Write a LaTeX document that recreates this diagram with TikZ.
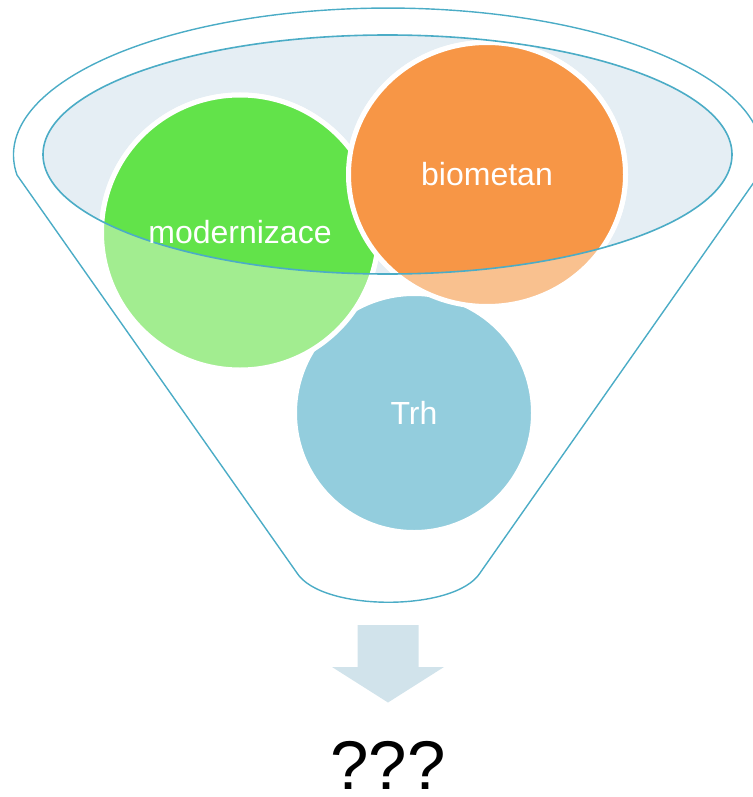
\documentclass[tikz,border=0pt]{standalone}
\usepackage{fontspec}
\setmainfont{Liberation Sans}
\usetikzlibrary{shapes.geometric}
\definecolor{rimblue}{HTML}{4BACC6}
\definecolor{mouthfill}{HTML}{E5EEF4}
\definecolor{greenfull}{HTML}{62E34A}
\definecolor{greenpale}{HTML}{A2ED90}
\definecolor{orangefull}{HTML}{F79646}
\definecolor{orangepale}{HTML}{F9C18F}
\definecolor{trhblue}{HTML}{93CDDD}
\definecolor{arrowblue}{HTML}{D1E3EB}

\begin{document}
\begin{tikzpicture}[x=1pt,y=1pt,
    bubble/.style={ellipse,draw=white,line width=5pt,inner sep=0pt},
    bubbletext/.style={text=white,font=\fontsize{32}{38}\selectfont,inner sep=0pt},
    rim/.style={draw=rimblue,line width=1.4pt}]
            \useasboundingbox (0,0) rectangle (752,-797);

            % Funnel mouth
            \fill[mouthfill] (387.5,-154.5) ellipse[x radius=344.5, y radius=119.5];

            % Circles
            \node[bubble,fill=trhblue,minimum width=239,minimum height=239,
                  text=white,font=\fontsize{32}{38}\selectfont] (trh) at (414,-413) {Trh};
            \node[bubble,fill=greenpale,minimum width=277,minimum height=275] (modernizace) at (240,-232.5) {};
            \node[bubble,fill=orangepale,minimum width=277,minimum height=264] (biometan) at (487,-174.5) {};

            % Circles seen through the mouth
            \begin{scope}
                \clip (387.5,-154.5) ellipse[x radius=344.5, y radius=119.5];
                \filldraw[fill=greenfull,draw=white,line width=5pt] (modernizace.center) ellipse[x radius=138.5, y radius=137.5];
                \filldraw[fill=orangefull,draw=white,line width=5pt] (biometan.center) ellipse[x radius=138.5, y radius=132];
            \end{scope}

            % Funnel outline
            \draw[rimblue,line width=1.6pt] (387.5,-154.5) ellipse[x radius=344.5, y radius=119.5];
            \draw[rim] (17,-175) arc[start angle=187.8, end angle=-7.8, x radius=374.5, y radius=147]
                -- (480,-573) .. controls (455,-612) and (322,-612) .. (297,-573) -- cycle;

            % Labels
            \node[bubbletext] (modernizace-label) at (modernizace.center) {modernizace};
            \node[bubbletext] (biometan-label) at (biometan.center) {biometan};

            % Outcome
            \coordinate (neck) at (388,-603);
            \node[anchor=base,inner sep=0pt,font=\fontsize{69}{78}\selectfont] (result) at (388,-789) {???};
            \fill[arrowblue] ([xshift=-30.5pt,yshift=-22pt]neck) -- ++(61,0) -- ++(0,-42) -- ++(25.5,0)
                -- ([yshift=-99.5pt]neck) -- ++(-56,35.5) -- ++(25.5,0) -- cycle;
        \end{tikzpicture}
\end{document}
